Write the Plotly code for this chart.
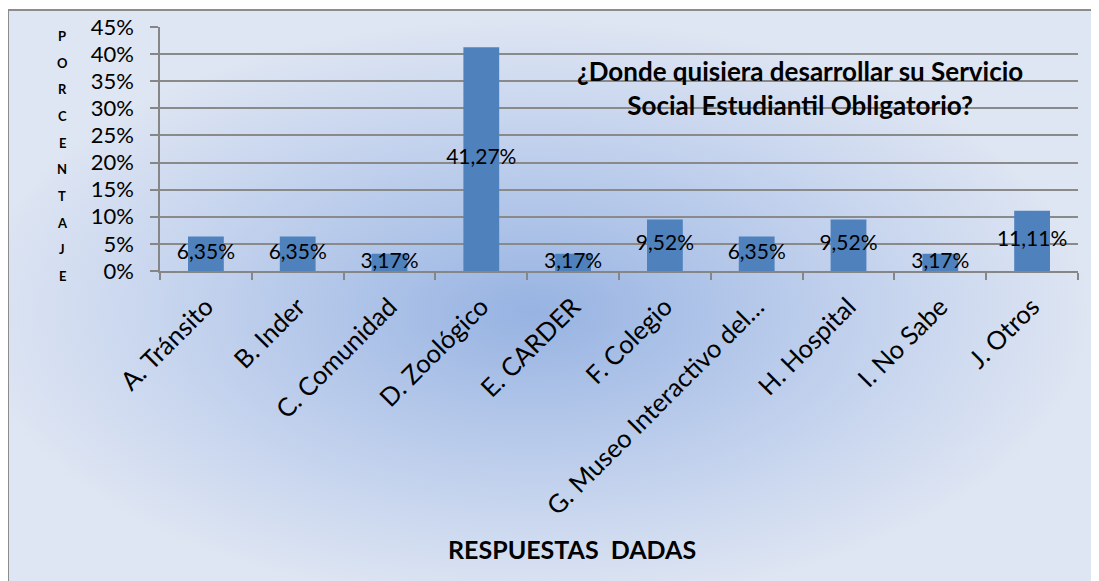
import base64
import plotly.graph_objects as go

categories = ["A. Tránsito", "B. Inder", "C. Comunidad", "D. Zoológico", "E. CARDER",
              "F. Colegio", "G. Museo Interactivo del…", "H. Hospital", "I. No Sabe", "J. Otros"]
values = [6.35, 6.35, 3.17, 41.27, 3.17, 9.52, 6.35, 9.52, 3.17, 11.11]
value_labels = [f"{v:.2f}".replace(".", ",") + "%" for v in values]
y_ticks = list(range(0, 50, 5))
y_title_letters = list("PORCENTAJE")
title_text = "¿Donde quisiera desarrollar su Servicio<br>Social Estudiantil Obligatorio?"
x_title = "RESPUESTAS\u00a0 DADAS"

OFF = 8  # default page body margin
W, H = 1099 - OFF, 581 - OFF
L, R, T, B = 160 - OFF, 21, 27 - OFF, 310
pw, ph = W - L - R, H - T - B


def px(xr):
    return (xr - OFF - L) / pw


def py(yr):
    return (T + ph - (yr - OFF)) / ph


# background gradient (svg data uri)
bx0, by0 = 7, 9
bw, bh = 1099 - bx0, 581 - by0
svg = f'''<svg xmlns="http://www.w3.org/2000/svg" width="{bw}" height="{bh}" viewBox="0 0 {bw} {bh}" preserveAspectRatio="none">
<defs><radialGradient id="g" cx="0.48" cy="0.53" r="0.52" fx="0.48" fy="0.53">
<stop offset="0" stop-color="#97b3e2"/><stop offset="0.45" stop-color="#b9cbeb"/>
<stop offset="1" stop-color="#dfe6f3"/></radialGradient></defs>
<rect x="0" y="0" width="{bw}" height="{bh}" fill="url(#g)"/>
<path d="M1 {bh} L1 1 L{bw} 1" stroke="#8c8c8c" stroke-width="2" fill="none"/>
</svg>'''
uri = "data:image/svg+xml;base64," + base64.b64encode(svg.encode()).decode()

FONT = "Lato"
fig = go.Figure()
fig.add_bar(x=categories, y=values, marker_color="#4f81bd", marker_line_width=0, hoverinfo="skip")
fig.add_scatter(x=categories, y=[v / 2 for v in values], mode="text", text=value_labels,
                textposition="middle center", textfont=dict(family=FONT, size=21, color="black"),
                hoverinfo="skip")

ann = [dict(text=f"<b>{title_text}</b>", x=px(800), y=py(88), xref="paper", yref="paper",
            showarrow=False, font=dict(family=FONT, size=26, color="black"), xanchor="center", yanchor="middle"),
       dict(text=f"<b>{x_title}</b>", x=px(572), y=py(549), xref="paper", yref="paper",
            showarrow=False, font=dict(family=FONT, size=25, color="black"), xanchor="center", yanchor="middle")]
for i, ch in enumerate(y_title_letters):
    yy = 36 + i * (276 - 36) / (len(y_title_letters) - 1)
    ann.append(dict(text=f"<b>{ch}</b>", x=px(62), y=py(yy), xref="paper", yref="paper",
                    showarrow=False, font=dict(family=FONT, size=13, color="black"),
                    xanchor="center", yanchor="middle"))

fig.update_layout(
    width=W, height=H, margin=dict(l=L, r=R, t=T, b=B, autoexpand=False),
    paper_bgcolor="white", plot_bgcolor="white", showlegend=False, bargap=0.61,
    annotations=ann,
    images=[dict(source=uri, xref="paper", yref="paper", x=px(bx0), y=py(by0),
                 sizex=bw / pw, sizey=bh / ph, xanchor="left", yanchor="top", sizing="stretch", layer="below")],
    xaxis=dict(type="category", tickangle=-45, tickfont=dict(family=FONT, size=25.5, color="black"),
               ticks="outside", tickson="boundaries", ticklen=7, tickcolor="#868686", tickwidth=1.5,
               showline=True, linecolor="#868686", linewidth=1.5, showgrid=False, ticklabelstandoff=9),
    yaxis=dict(range=[0, 45], tickvals=y_ticks, ticktext=[f"{t}%" for t in y_ticks],
               tickfont=dict(family=FONT, size=22, color="black"),
               ticks="outside", ticklen=8, tickcolor="#868686", tickwidth=1.5,
               showline=True, linecolor="#868686", linewidth=1.5,
               showgrid=True, gridcolor="#8a8a8a", gridwidth=1.5, zeroline=False, ticklabelstandoff=12),
)
fig.write_html("out.html")
